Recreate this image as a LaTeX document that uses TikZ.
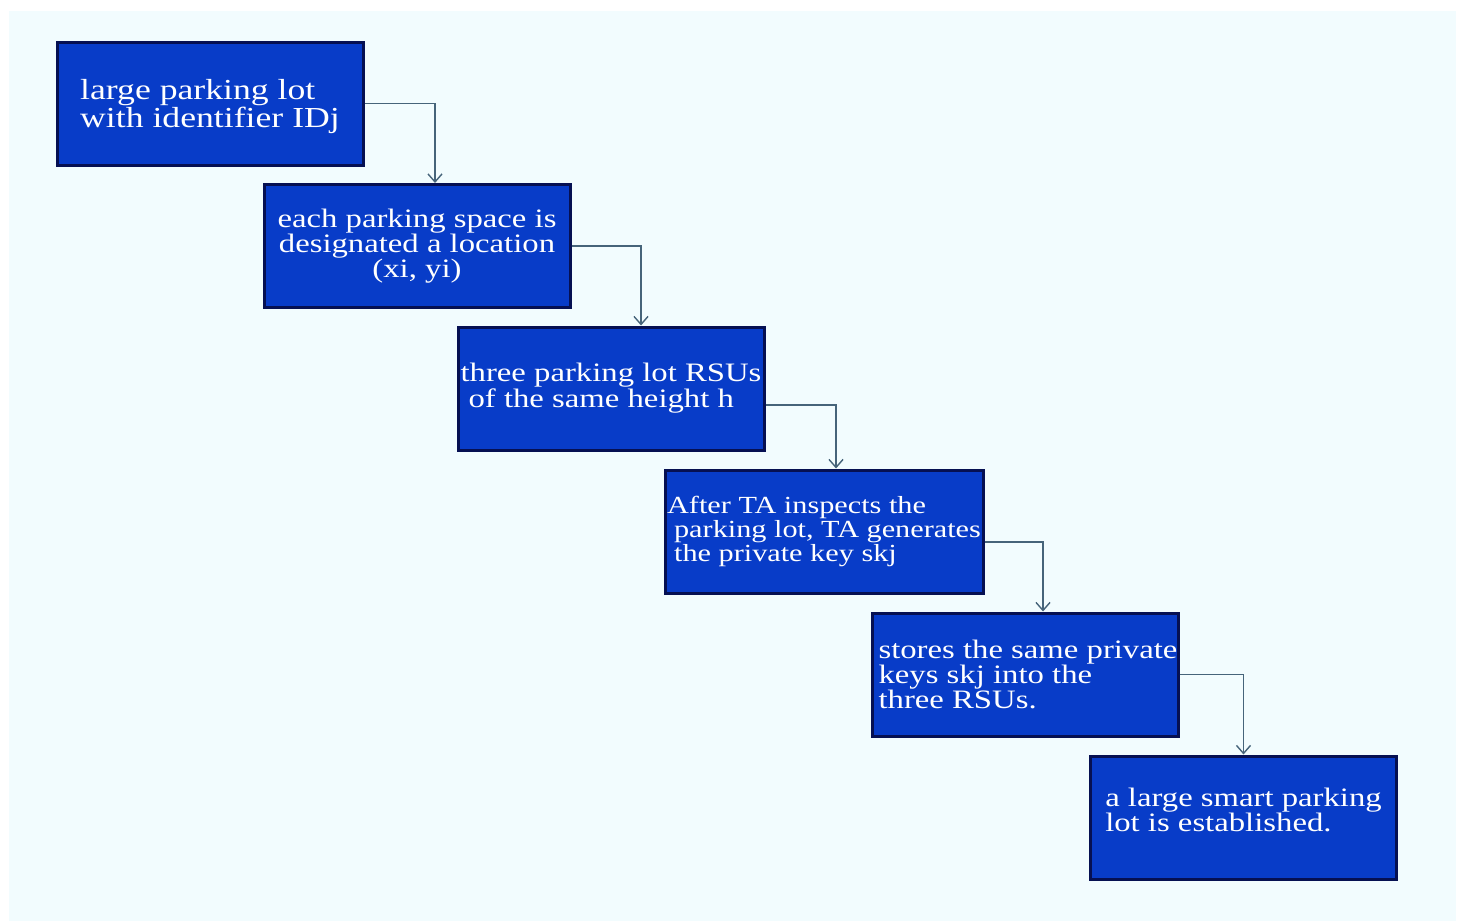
\documentclass[tikz,border=0pt]{standalone}
\usepackage{fontspec}
\setmainfont{Liberation Serif}[FakeStretch=1.23]
\usetikzlibrary{calc,arrows.meta}

\definecolor{pagebg}{RGB}{242,252,254}
\definecolor{boxblue}{RGB}{8,60,200}
\definecolor{boxline}{RGB}{6,16,82}
\definecolor{linkgray}{RGB}{70,100,122}

\begin{document}
\begin{tikzpicture}[x=0.5pt,y=-0.5pt,
  stage/.style={draw=boxline,line width=1.5pt,fill=boxblue,text=white,
    minimum width=153pt,minimum height=61.5pt,inner sep=0pt,align=left},
  link/.style={draw=linkgray,line width=0.7pt,-{Straight Barb[length=4pt,width=7pt]}}]
  % page
  \useasboundingbox (0,0) rectangle (1458,921);
  \fill[pagebg] (9,11) rectangle (1456,921);

  % steps
  \node[stage,font=\fontsize{14.5}{14}\selectfont] (lot) at (210,103.5)
    {\rule{0pt}{13pt}large parking lot\\with identifier IDj};
  \node[stage,align=center,font=\fontsize{13.3}{12.5}\selectfont] (space) at (417,246)
    {each parking space is\\designated a location\\(xi, yi)};
  \node[stage,font=\fontsize{13.3}{13}\selectfont] (rsu) at (611,388.5)
    {three parking lot RSUs\\\hspace{4pt}of the same height h};
  \node[stage,minimum width=159pt,font=\fontsize{12.3}{12}\selectfont] (ta) at (824,531.5)
    {After TA inspects the\\\hspace{3.5pt}parking lot, TA generates\\\hspace{3.5pt}the private key skj};
  \node[stage,font=\fontsize{13.3}{12.5}\selectfont] (keys) at (1025,674.5)
    {\hspace{3pt}stores the same private\\\hspace{3pt}keys skj into the\\\hspace{3pt}three RSUs.};
  \node[stage,font=\fontsize{13.3}{12.5}\selectfont] (smart) at (1243.5,817.5)
    {a large smart parking\\lot is established.\rule[-8pt]{0pt}{0pt}};

  % links
  \draw[link] (lot.east) -| ($(space.north)+(18,0)$);
  \draw[link] (space.east) -| ($(rsu.north)+(30,0)$);
  \draw[link] ($(rsu.east)+(0,16.5)$) -| ($(ta.north)+(12,0)$);
  \draw[link] ($(ta.east)+(0,10.5)$) -| ($(keys.north)+(18,0)$);
  \draw[link] (keys.east) -| (smart.north);
\end{tikzpicture}
\end{document}
